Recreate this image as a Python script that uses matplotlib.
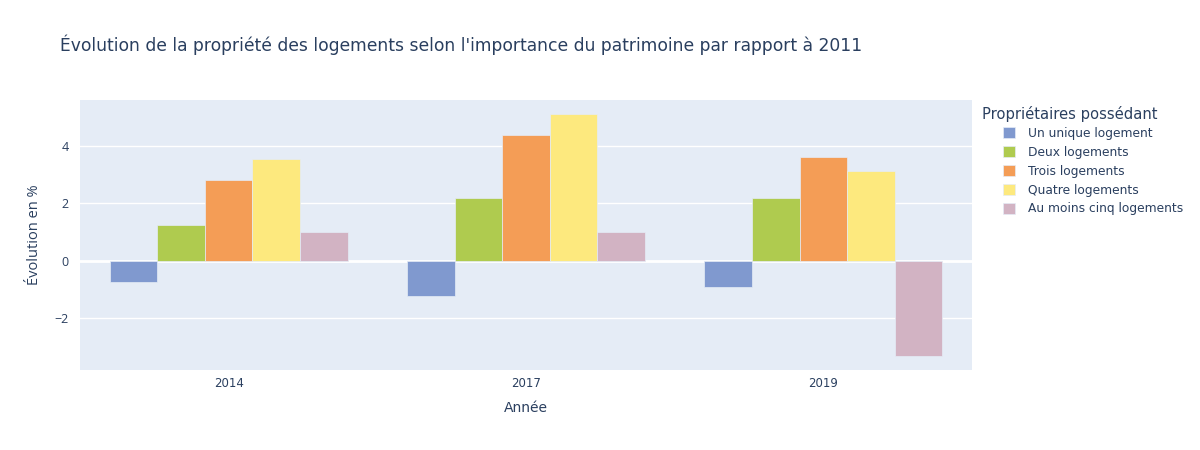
import numpy as np
import matplotlib.pyplot as plt
from matplotlib.patches import Patch

# valeurs (évolution en % par rapport à 2011)
annees = ["2014", "2017", "2019"]
series = ["Un unique logement", "Deux logements", "Trois logements",
          "Quatre logements", "Au moins cinq logements"]
un_unique = [-0.76, -1.24, -0.92]
deux = [1.24, 2.19, 2.19]
trois = [2.82, 4.39, 3.61]
quatre = [3.54, 5.11, 3.13]
cinq_plus = [0.99, 0.99, -3.34]
valeurs = [un_unique, deux, trois, quatre, cinq_plus]
couleurs = ["#8099CF", "#AFCB4F", "#F49D56", "#FDE97E", "#D2B3C3"]

txt = "#2a3f5f"
opensans = ['Open Sans', 'DejaVu Sans']
plt.rcParams['font.family'] = ['DejaVu Sans']

fig = plt.figure(figsize=(12, 4.5), dpi=100)
ax = fig.add_axes([80/1200, 1-370/450, 892/1200, 270/450])
ax.set_facecolor("#E5ECF6")

x = np.arange(len(annees))
larg = 0.8 / len(series)
for i, (nom, v, c) in enumerate(zip(series, valeurs, couleurs)):
    pos = x - 0.4 + larg * (i + 0.5)
    ax.bar(pos, v, width=larg, color=c, edgecolor="#E5ECF6", linewidth=0.5, label=nom, zorder=3)

ax.set_xlim(-0.5, 2.5)
ax.set_ylim(-3.82, 5.61)
ax.set_yticks([-2, 0, 2, 4])
ax.set_yticklabels(["\u22122", "0", "2", "4"], family=opensans)
ax.set_xticks(x)
ax.set_xticklabels(annees)
ax.grid(axis="y", color="white", linewidth=1, zorder=0)
ax.axhline(0, color="white", linewidth=2, zorder=2)
ax.tick_params(length=0, labelsize=8.5, colors=txt)
ax.tick_params(axis="x", pad=5)
ax.tick_params(axis="y", pad=8, labelsize=9)
for s in ax.spines.values():
    s.set_visible(False)

ax.set_xlabel("Année", fontsize=10, color=txt, labelpad=8)
ax.set_ylabel("Évolution en %", fontsize=10.5, color=txt, labelpad=9, family=opensans)

fig.text(60/1200, 1-45/450, "Évolution de la propriété des logements selon l'importance du patrimoine par rapport à 2011",
         fontsize=12.3, color=txt, va="center", ha="left")

fig.text(982/1200, 1-114/450, "Propriétaires possédant", fontsize=10.6, color=txt, va="center", ha="left")
poignees = [Patch(facecolor=c, edgecolor="#E5ECF6", linewidth=0.5) for c in couleurs]
leg = fig.legend(poignees, series, loc="upper left", bbox_to_anchor=(1003/1200, 1-127/450),
                 frameon=False, fontsize=8.8, handlelength=0.97, handleheight=0.97,
                 handletextpad=1.05, labelspacing=0.48, borderpad=0, borderaxespad=0)
for t in leg.get_texts():
    t.set_color(txt)

fig.savefig("out.png", dpi=100)
